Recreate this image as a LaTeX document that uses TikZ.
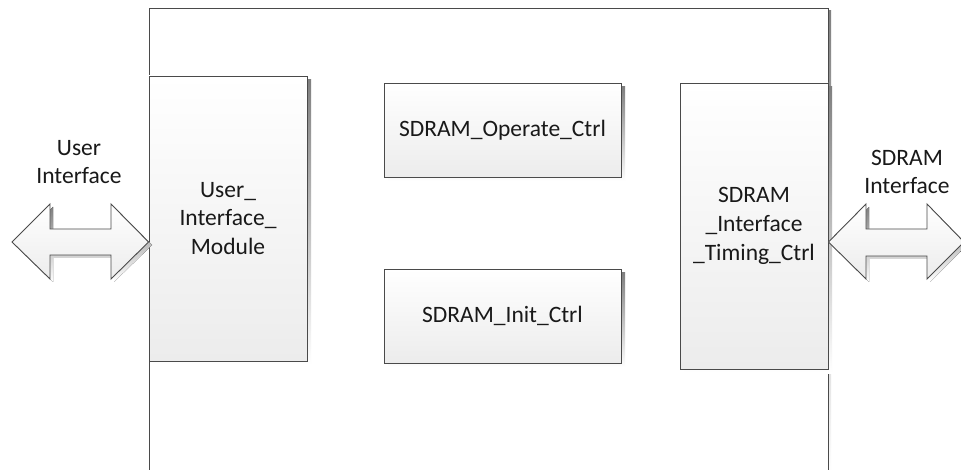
\documentclass[tikz,border=0pt]{standalone}
\usepackage{fontspec}
\setmainfont{Carlito}
\definecolor{edge}{HTML}{4A4A4A}
\definecolor{shade}{HTML}{E2E2E2}
\definecolor{fillbot}{HTML}{ECECEC}
\begin{document}
\begin{tikzpicture}[x=1pt,y=-1pt,
  every node/.style={font=\fontsize{23.5}{28.7}\selectfont, text=black!90},
  blockbox/.style={draw=edge, line width=0.9pt, top color=white, bottom color=fillbot, inner sep=0pt, align=center},
  label/.style={align=center, inner sep=0pt},
  arrowshape/.style={draw=edge, line width=0.9pt, top color=white, bottom color=fillbot, line join=miter}
]
\useasboundingbox (0,0) rectangle (961,470);
\clip (0,0) rectangle (961,470);
\fill[white] (0,0) rectangle (961,470);

% outer frame with shadow
\fill[shade] (152,11) rectangle (831,475);
\fill[white] (149,8) rectangle (828,475);
\draw[edge, line width=0.9pt] (149,475) -- (149,8) -- (828,8) -- (828,475);

% shadows of blocks
\fill[shade] (153,80) rectangle (311,365);
\fill[shade] (388,87) rectangle (625,181);
\fill[shade] (388,273) rectangle (625,367);
\fill[shade] (684,87) rectangle (832,373);

% blocks
\node[blockbox, minimum width=158pt, minimum height=285pt] (uim) at (228,218.5) {User\_\\Interface\_\\Module};
\node[blockbox, minimum width=237pt, minimum height=94pt] (op) at (502.5,130) {SDRAM\_Operate\_Ctrl};
\node[blockbox, minimum width=237pt, minimum height=94pt] (init) at (502.5,316) {SDRAM\_Init\_Ctrl};
\node[blockbox, minimum width=148pt, minimum height=286pt] (sitc) at (754,226) {SDRAM\\\_Interface\\\_Timing\_Ctrl};

% left double arrow
\fill[shade] (15,245) -- (53,207) -- (53,232) -- (114,232) -- (114,207) -- (152,245) -- (114,282) -- (114,258) -- (53,258) -- (53,282) -- cycle;
\path[arrowshape] (12,242) -- (50,204) -- (50,229) -- (111,229) -- (111,204) -- (uim.west |- 0,242) -- (111,279) -- (111,255) -- (50,255) -- (50,279) -- cycle;

% right double arrow
\fill[shade] (832,245) -- (869,207) -- (869,232) -- (930,232) -- (930,207) -- (967,245) -- (930,282) -- (930,259) -- (869,259) -- (869,282) -- cycle;
\path[arrowshape] (sitc.east |- 0,242) -- (866,204) -- (866,229) -- (927,229) -- (927,204) -- (964,242) -- (927,279) -- (927,256) -- (866,256) -- (866,279) -- cycle;

% labels
\node[label] (uil) at (79,162) {User\\Interface};
\node[label] (sil) at (907,172) {SDRAM\\Interface};
\end{tikzpicture}
\end{document}
